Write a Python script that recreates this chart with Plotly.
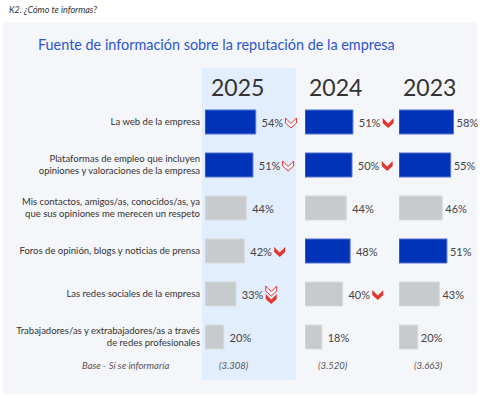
import plotly.graph_objects as go

W, H = 480, 398

# ---------------- data ----------------
rows = [
    "La web de la empresa",
    "Plataformas de empleo que incluyen<br>opiniones y valoraciones de la empresa",
    "Mis contactos, amigos/as, conocidos/as, ya<br>que sus opiniones me merecen un respeto",
    "Foros de opinión, blogs y noticias de prensa",
    "Las redes sociales de la empresa",
    "Trabajadores/as y extrabajadores/as a través<br>de redes profesionales",
]
years = ["2025", "2024", "2023"]
v2025 = [54, 51, 44, 42, 33, 20]
v2024 = [51, 50, 44, 48, 40, 18]
v2023 = [58, 55, 46, 51, 43, 20]
# highlighted (blue) bars per year
hl2025 = [True, True, False, False, False, False]
hl2024 = [True, True, False, True, False, False]
hl2023 = [True, True, False, True, False, False]
bases = ["(3.308)", "(3.520)", "(3.663)"]
base_label = "Base - Sí se informaría"
# trend markers: (year index, row, kind)
trends = [
    (0, 0, "hollow"), (0, 1, "hollow"), (0, 3, "solid"), (0, 4, "double"),
    (1, 0, "solid"), (1, 1, "solid"), (1, 4, "solid"),
]

# ---------------- style ----------------
BLUE = "#0033b8"
GRAY = "#c8cbce"
RED = "#e2372c"
FONT = "Lato"


def px(x):
    return x / W


def py(y):
    return 1 - y / H


values = [v2025, v2024, v2023]
hls = [hl2025, hl2024, hl2023]
xstarts = [205, 305, 399]
xmaxes = [100, 100, 80]
prefix = [" ", " ", ""]
scale = 0.94  # px per %
ypos = list(range(len(rows)))

fig = go.Figure()
for i, (vals, hl) in enumerate(zip(values, hls)):
    ax = "x" if i == 0 else f"x{i+1}"
    fig.add_trace(go.Bar(
        y=ypos, x=vals, orientation="h", xaxis=ax, yaxis="y",
        marker=dict(color=[BLUE if h else GRAY for h in hl],
                    line=dict(color=["#5a78d2" if h else "#d9dbdd" for h in hl], width=1)),
        width=0.56,
        text=[f"{prefix[i]}{v}%" for v in vals], textposition="outside",
        textfont=dict(family=FONT, size=11, color="#444"),
        cliponaxis=False, showlegend=False, hoverinfo="skip",
    ))

layout = dict(
    width=W, height=H, margin=dict(l=0, r=0, t=0, b=0),
    paper_bgcolor="white", plot_bgcolor="rgba(0,0,0,0)",
    yaxis=dict(domain=[py(358.5), py(100.5)], range=[5.5, -0.5],
               tickvals=ypos, ticktext=rows, showgrid=False, zeroline=False,
               showline=False, ticks="", anchor="x", ticklabelstandoff=4,
               tickfont=dict(family=FONT, size=9.5, color="#333")),
)
for i in range(3):
    key = "xaxis" if i == 0 else f"xaxis{i+1}"
    layout[key] = dict(domain=[px(xstarts[i]), min(1.0, px(xstarts[i] + scale * xmaxes[i]))],
                       range=[0, xmaxes[i]], visible=False, anchor="y")
fig.update_layout(**layout)

shapes = [
    # panel
    dict(type="rect", xref="paper", yref="paper", x0=px(3), x1=px(477), y0=py(394), y1=py(22),
         fillcolor="#f5f6f9", line=dict(width=0), layer="below"),
    # highlight 2025 column
    dict(type="rect", xref="paper", yref="paper", x0=px(202), x1=px(296), y0=py(380), y1=py(68),
         fillcolor="#e2edfd", line=dict(width=0), layer="below"),
]


def label_width(v):
    return 6.1 * len(f"{v}") + 9.0


CHEV = [(-5.5, 4), (0, -1.5), (5.5, 4), (5.5, -1), (0, -6), (-5.5, -1)]


def chev_path(dx, dy):
    pts = [f"{x + dx:.2f},{y + dy:.2f}" for x, y in CHEV]
    return "M " + " L ".join(pts) + " Z"


for yi, r, kind in trends:
    v = values[yi][r]
    ax = "x" if yi == 0 else f"x{yi+1}"
    off = 3 + 3 + label_width(v) + 8
    if kind == "double":
        parts = [("hollow", 4), ("solid", -4)]
    else:
        parts = [(kind, 0)]
    for k, dy in parts:
        shapes.append(dict(
            type="path", xref=ax, yref="y", xsizemode="pixel", ysizemode="pixel",
            xanchor=v, yanchor=r, path=chev_path(off, dy),
            fillcolor=RED if k == "solid" else "rgba(255,255,255,0.6)",
            line=dict(color=RED, width=1 if k == "hollow" else 0),
            layer="above",
        ))
fig.update_layout(shapes=shapes)

ann = [
    dict(text="<i>K2. ¿Cómo te informas?</i>", x=px(7), y=py(9), xanchor="left", yanchor="middle",
         font=dict(family=FONT, size=9, color="#333")),
    dict(text="Fuente de información sobre la reputación de la empresa", x=px(36), y=py(44),
         xanchor="left", yanchor="middle", font=dict(family=FONT, size=14.4, color="#2b55d2")),
    dict(text=f"<i>{base_label}</i>", x=px(125), y=py(365), xanchor="center", yanchor="middle",
         font=dict(family=FONT, size=9.5, color="#555")),
]
year_cx = [237, 335, 429]
base_cx = [234, 333, 428]
for i in range(3):
    ann.append(dict(text=years[i], x=px(year_cx[i]), y=py(87), xanchor="center", yanchor="middle",
                    font=dict(family=FONT, size=23, color="#333")))
    ann.append(dict(text=f"<i>{bases[i]}</i>", x=px(base_cx[i]), y=py(365), xanchor="center",
                    yanchor="middle", font=dict(family=FONT, size=9.5, color="#555")))
for a in ann:
    a.update(xref="paper", yref="paper", showarrow=False)
fig.update_layout(annotations=ann)

fig.write_html("out.html", config={"displayModeBar": False},
               post_script="document.body.style.margin='0';document.body.style.overflow='hidden';")
